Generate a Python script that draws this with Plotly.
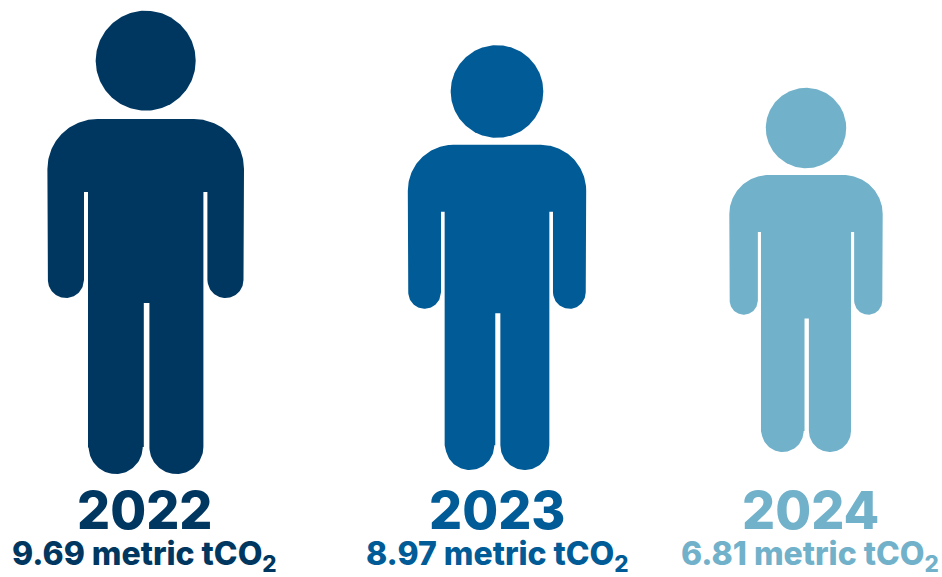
import numpy as np
import plotly.graph_objects as go

years = ["2022", "2023", "2024"]
values = [9.69, 8.97, 6.81]
unit = "metric tCO<sub>2</sub>"
colors = ["#003761", "#005b96", "#71b1ca"]

# display geometry of each pictogram, in page pixels
centers = [145.7, 497, 806]
bottoms = [474, 470, 452]
heights = [464, 425, 362]
widths = [464, 421, 362]
head_cy = [60.7, 91.5, 128]
head_r = [50, 46.3, 40.2]
label_x = [144, 497, 810]
value_x = [144, 497.5, 810]


def arc(cx, cy, r, a0, a1, n=60):
    t = np.radians(np.linspace(a0, a1, n))
    return cx + r * np.cos(t), cy + r * np.sin(t)


def person_outline():
    """Icon outline: x from the centre, y from the top, for a 464-tall figure."""
    parts = [
        arc(-48.3, 159, 50, 180, 270),
        arc(48.3, 159, 50, 270, 360),
        arc(79.8, 270, 18, 0, 180),
        (np.array([61.7, 61.7, 57.7]), np.array([270, 182, 182])),
        arc(30.7, 437, 27, 0, 180),
        (np.array([3.7, 3.7, -1.9, -1.9]), np.array([437, 293, 293, 437])),
        arc(-30, 437, 27, 0, 180),
        (np.array([-57.7, -57.7, -61.7, -61.7]), np.array([437, 182, 182, 270])),
        arc(-79.8, 270, 18, 0, 180),
    ]
    x = np.concatenate([p[0] for p in parts])
    y = np.concatenate([p[1] for p in parts])
    return np.append(x, x[0]) / 464, np.append(y, y[0]) / 464


body_x, body_y = person_outline()
circle_x, circle_y = arc(0, 0, 1, 0, 360, 180)

fig = go.Figure()
for i, year in enumerate(years):
    top = bottoms[i] - heights[i]
    fig.add_trace(go.Scatter(
        x=centers[i] + body_x * widths[i],
        y=top + body_y * heights[i],
        mode="lines", fill="toself", fillcolor=colors[i],
        line=dict(width=0, color=colors[i]), hoverinfo="skip",
    ))
    fig.add_trace(go.Scatter(
        x=centers[i] + circle_x * head_r[i],
        y=head_cy[i] + circle_y * head_r[i],
        mode="lines", fill="toself", fillcolor=colors[i],
        line=dict(width=0, color=colors[i]), hoverinfo="skip",
    ))
    fig.add_annotation(x=label_x[i], y=510, text=year, showarrow=False,
                       font=dict(family="Inter", size=52, weight=800, color=colors[i]),
                       xanchor="center", yanchor="middle")
    fig.add_annotation(x=value_x[i], y=555, text=f"{values[i]:.2f} {unit}", showarrow=False,
                       font=dict(family="Inter", size=32, weight=800, color=colors[i]),
                       xanchor="center", yanchor="middle")

fig.update_layout(
    width=942, height=577, margin=dict(l=0, r=0, t=0, b=0),
    paper_bgcolor="white", plot_bgcolor="white", showlegend=False,
    xaxis=dict(range=[0, 942], visible=False, fixedrange=True),
    yaxis=dict(range=[577, 0], visible=False, fixedrange=True),
)
fig.write_html("out.html", config=dict(displayModeBar=False),
               post_script="document.body.style.margin='0';document.body.style.overflow='hidden';")
